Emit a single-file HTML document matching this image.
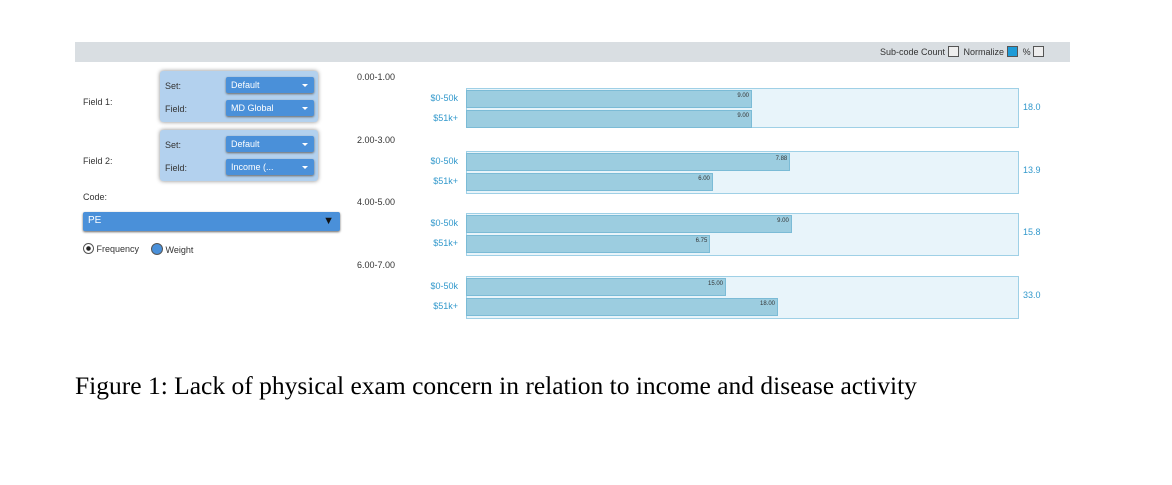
<!DOCTYPE html>
<html><head><meta charset="utf-8"><style>
body{margin:0;width:1172px;height:485px;background:#fff;position:relative;overflow:hidden;font-family:"Liberation Sans",sans-serif}
.a{position:absolute}
.lbl{font-size:9px;color:#333}
.panel{background:#b3d1ee;border-radius:3px;box-shadow:0 0 4px #888}
.dd{background:#4a90d9;color:#fff;font-size:9px;border-radius:2px;box-shadow:0 1px 2px #666;padding-left:5px;line-height:16px;box-sizing:border-box}
.ar:after{content:"";position:absolute;right:6px;top:7px;border:3px solid transparent;border-top:3px solid #fff}
.sub{font-size:9px;color:#3399cc;text-align:right;width:60px}
.box{background:#e8f4fa;border:1.5px solid #9fd0e6;box-sizing:border-box}
.bar{background:#9ccde0;border:1px solid #7bbbd6;box-sizing:border-box;font-size:6px;color:#333;text-align:right;padding-right:2px;line-height:10px}
.chk{display:inline-block;width:9px;height:9px;border:1px solid #555;vertical-align:-2px;background:#eee}
</style></head><body>
<div class="a" style="left:75px;top:42px;width:995px;height:20px;background:#d9dee2"></div>
<div class="a lbl" style="left:880px;top:46px;font-size:9px">Sub-code Count <span class="chk"></span>&nbsp; Normalize <span class="chk" style="background:#1e9bd7"></span>&nbsp; % <span class="chk"></span></div>

<div class="a lbl" style="left:83px;top:97px">Field 1:</div>
<div class="a panel" style="left:160px;top:71px;width:158px;height:51px"></div>
<div class="a lbl" style="left:165px;top:81px">Set:</div>
<div class="a dd ar" style="left:226px;top:77px;width:88px;height:16px">Default</div>
<div class="a lbl" style="left:165px;top:104px">Field:</div>
<div class="a dd ar" style="left:226px;top:100px;width:88px;height:16px">MD Global</div>

<div class="a lbl" style="left:83px;top:156px">Field 2:</div>
<div class="a panel" style="left:160px;top:130px;width:158px;height:51px"></div>
<div class="a lbl" style="left:165px;top:140px">Set:</div>
<div class="a dd ar" style="left:226px;top:136px;width:88px;height:16px">Default</div>
<div class="a lbl" style="left:165px;top:163px">Field:</div>
<div class="a dd ar" style="left:226px;top:159px;width:88px;height:16px">Income (...</div>

<div class="a lbl" style="left:83px;top:192px">Code:</div>
<div class="a dd" style="left:83px;top:212px;width:257px;height:19px;line-height:18px;font-size:10px;border-radius:2px">PE<span style="position:absolute;right:6px;top:0;color:#111;font-size:11px">▼</span></div>
<div class="a lbl" style="left:83px;top:243px"><span style="display:inline-block;width:9px;height:9px;border-radius:50%;border:1px solid #555;background:radial-gradient(#222 30%,#fff 40%);vertical-align:-2px"></span> Frequency</div>
<div class="a lbl" style="left:151px;top:243px"><span style="display:inline-block;width:10px;height:10px;border-radius:50%;background:#4a90d9;border:1px solid #555;vertical-align:-2px"></span> Weight</div>

<div id="chart"></div>
<div class="a" style="left:75px;top:371px;font-family:'Liberation Serif',serif;font-size:25.5px;color:#000;white-space:nowrap">Figure 1: Lack of physical exam concern in relation to income and disease activity</div>
<script>
const groups=["0.00-1.00","2.00-3.00","4.00-5.00","6.00-7.00"];
const subs=["$0-50k","$51k+"];
const lowIncome=[9.00,7.88,9.00,15.00];
const highIncome=[9.00,6.00,6.75,18.00];
const totals=[18.0,13.9,15.8,33.0];
const c=document.getElementById('chart');
const X0=466,BW=553,SCALE=572;
function gy(i){return 88+i*62.5;}
function bx(v,t){return v/t*SCALE;}
function mk(cls,style,txt){const d=document.createElement('div');d.className='a '+cls;d.style.cssText=style;if(txt!=null)d.textContent=txt;c.appendChild(d);return d;}
groups.forEach((g,i)=>{
 const y=gy(i);
 const gl=mk('lbl',`left:357px;top:${y-16}px`,g);
 
 
 const b=mk('box',`left:${X0}px;top:${y}px;width:${BW}px;height:${i==0?40:43}px`);
 
 
 [lowIncome[i],highIncome[i]].forEach((v,j)=>{
  const by=y+2+j*20;
  const s=mk('sub',`left:398px;top:${by+3}px`,subs[j]);
  
  
  const r=mk('bar',`left:${X0}px;top:${by}px;width:${bx(v,totals[i])}px;height:18px`,v.toFixed(2));
  
  
 });
 const t=mk('sub',`left:1023px;top:${y+14}px;text-align:left`,totals[i].toFixed(1));
 
 
});
</script>
</body></html>
